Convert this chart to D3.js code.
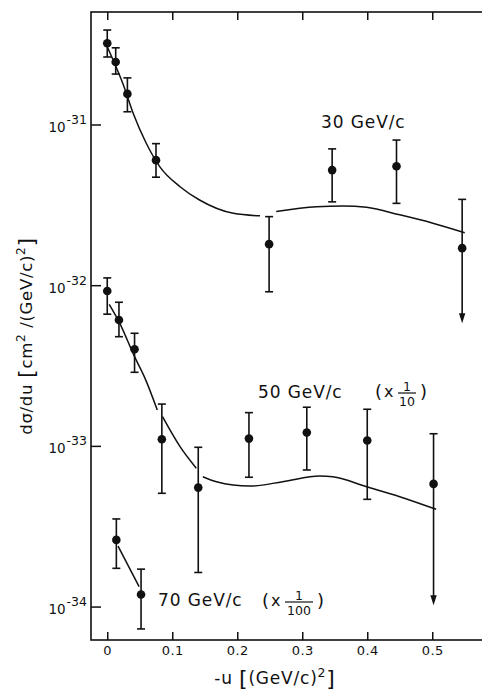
<!DOCTYPE html>
<html>
<head>
<meta charset="utf-8">
<script src="https://cdn.jsdelivr.net/npm/d3@7"></script>
<style>
  html, body { margin: 0; padding: 0; background: #fff; }
  svg { display: block; font-family: "DejaVu Sans", sans-serif; }
</style>
</head>
<body>
<svg id="chart" width="482" height="691"></svg>
<script>
// ---- Measured cross sections dσ/du (cm²/(GeV/c)²) versus -u ((GeV/c)²) ----

// 30 GeV/c
const u30   = [0.0, 0.013, 0.031, 0.075, 0.249, 0.346, 0.445, 0.546];
const val30 = [3.2e-31, 2.45e-31, 1.55e-31, 6.0e-32, 1.8e-32, 5.2e-32, 5.5e-32, 1.7e-32];
const hi30  = [3.87e-31, 3.0e-31, 1.95e-31, 7.6e-32, 2.67e-32, 7.05e-32, 8.0e-32, 3.42e-32];
const lo30  = [2.63e-31, 2.06e-31, 1.2e-31, 4.7e-32, 9.1e-33, 3.3e-32, 3.23e-32, 5.8e-33];
const lim30 = [false, false, false, false, false, false, false, true];

// 50 GeV/c (plotted × 1/10)
const u50   = [0.0, 0.018, 0.042, 0.084, 0.14, 0.218, 0.307, 0.40, 0.502];
const val50 = [9.2e-32, 6.07e-32, 3.99e-32, 1.1e-32, 5.5e-33, 1.11e-32, 1.21e-32, 1.08e-32, 5.8e-33];
const hi50  = [1.11e-31, 7.83e-32, 5.02e-32, 1.82e-32, 9.8e-33, 1.61e-32, 1.74e-32, 1.69e-32, 1.19e-32];
const lo50  = [6.6e-32, 4.78e-32, 2.87e-32, 5.07e-33, 1.63e-33, 6.38e-33, 7.08e-33, 4.65e-33, 1.02e-33];
const lim50 = [false, false, false, false, false, false, false, false, true];

// 70 GeV/c (plotted × 1/100)
const u70   = [0.014, 0.052];
const val70 = [2.6e-32, 1.19e-32];
const hi70  = [3.51e-32, 1.71e-32];
const lo70  = [1.73e-32, 7.26e-33];
const lim70 = [false, false];

// Model curves, as [-u, dσ/du] knots; each inner array is one drawn piece
const curve30 = [
  [[0.0, 3.05e-31], [0.009, 2.52e-31], [0.024, 1.80e-31], [0.040, 1.17e-31], [0.060, 7.64e-32],
   [0.081, 5.45e-32], [0.112, 4.10e-32], [0.142, 3.39e-32], [0.194, 2.80e-32], [0.235, 2.70e-32]],
  [[0.260, 2.87e-32], [0.322, 3.08e-32], [0.363, 3.11e-32], [0.399, 3.05e-32], [0.45, 2.74e-32],
   [0.501, 2.43e-32], [0.550, 2.12e-32]]
];
const curve50 = [
  [[0.003, 7.6e-32], [0.018, 5.93e-32], [0.042, 3.59e-32], [0.058, 2.64e-32], [0.077, 1.67e-32]],
  [[0.085, 1.52e-32], [0.112, 9.89e-33], [0.137, 7.26e-33]],
  [[0.147, 6.43e-33], [0.168, 5.98e-33], [0.219, 5.62e-33], [0.270, 5.98e-33], [0.327, 6.50e-33],
   [0.347, 6.43e-33], [0.399, 5.57e-33], [0.45, 4.83e-33], [0.506, 4.03e-33]]
];
const curve70 = [
  [[0.0166, 2.38e-32], [0.049, 1.33e-32]]
];

// Axis ticks
const xTickValues = [0, 0.1, 0.2, 0.3, 0.4, 0.5];
const xTickLabels = ["0", "0.1", "0.2", "0.3", "0.4", "0.5"];
const yTickValues = [1e-31, 1e-32, 1e-33, 1e-34];
const yTickExponents = ["-31", "-32", "-33", "-34"];

const seriesList = [
  { label: "30 GeV/c", factor: 1,    u: u30, v: val30, hi: hi30, lo: lo30, lim: lim30, curve: curve30 },
  { label: "50 GeV/c", factor: 0.1,  u: u50, v: val50, hi: hi50, lo: lo50, lim: lim50, curve: curve50 },
  { label: "70 GeV/c", factor: 0.01, u: u70, v: val70, hi: hi70, lo: lo70, lim: lim70, curve: curve70 }
];

// ---- Layout ----
const svg = d3.select("#chart");
const plot = { left: 91, right: 497.25, top: 12, bottom: 640 };

const x = d3.scaleLinear().domain([-0.025, 0.6]).range([plot.left, plot.right]);
const y = d3.scaleLog().domain([Math.pow(10, -34.208), Math.pow(10, -30.3)]).range([plot.bottom, plot.top]);

const ink = "#111";

// Frame
svg.append("rect")
  .attr("x", plot.left).attr("y", plot.top)
  .attr("width", plot.right - plot.left).attr("height", plot.bottom - plot.top)
  .attr("fill", "none").attr("stroke", ink).attr("stroke-width", 1.6);

// Inward ticks
const styleAxis = g => {
  g.select(".domain").remove();
  g.selectAll(".tick line").attr("stroke", ink).attr("stroke-width", 1.5);
};

svg.append("g").attr("transform", `translate(0,${plot.top})`)
  .call(d3.axisTop(x).tickValues(xTickValues).tickSizeInner(-8).tickSizeOuter(0).tickFormat(""))
  .call(styleAxis);

const xAxisBottom = svg.append("g").attr("transform", `translate(0,${plot.bottom})`)
  .call(d3.axisBottom(x).tickValues(xTickValues).tickSizeInner(-8).tickSizeOuter(0).tickPadding(6)
        .tickFormat((d, i) => xTickLabels[i]))
  .call(styleAxis);
xAxisBottom.selectAll(".tick text")
  .attr("font-family", "DejaVu Sans, sans-serif").attr("font-size", 13).attr("fill", ink)
  .attr("letter-spacing", 0.5);

const yAxisLeft = svg.append("g").attr("transform", `translate(${plot.left},0)`)
  .call(d3.axisLeft(y).tickValues(yTickValues).tickSizeInner(-10).tickSizeOuter(0).tickFormat(""))
  .call(styleAxis);

// Power-of-ten labels
yAxisLeft.selectAll(".tick").each(function (d, i) {
  const t = d3.select(this).append("text")
    .attr("x", -4).attr("y", 7)
    .attr("text-anchor", "end").attr("fill", ink)
    .attr("font-family", "DejaVu Sans, sans-serif");
  t.append("tspan").attr("font-size", 13.5).text("10");
  t.append("tspan").attr("font-size", 12.5).attr("dy", -8).attr("dx", 1).text(yTickExponents[i]);
});

// Curves
const line = d3.line()
  .x(d => x(d[0]))
  .y(d => y(d[1]))
  .curve(d3.curveMonotoneX);

seriesList.forEach(s => {
  s.curve.forEach(piece => {
    svg.append("path")
      .attr("d", line(piece.map(k => [k[0], k[1] * s.factor])))
      .attr("fill", "none").attr("stroke", ink).attr("stroke-width", 1.5);
  });
});

// Data points with error bars
const capHalf = 4;
const arrowH = 10, arrowHalf = 3.2;
seriesList.forEach(s => {
  const pts = s.u.map((u, i) => ({
    u, v: s.v[i] * s.factor, hi: s.hi[i] * s.factor, lo: s.lo[i] * s.factor, lim: s.lim[i]
  }));
  const g = svg.append("g");
  pts.forEach(p => {
    const px = x(p.u);
    const yTop = y(p.hi), yBot = y(p.lo);
    g.append("line")
      .attr("x1", px).attr("x2", px)
      .attr("y1", yTop).attr("y2", p.lim ? yBot - arrowH + 1 : yBot)
      .attr("stroke", ink).attr("stroke-width", 1.6);
    g.append("line")
      .attr("x1", px - capHalf).attr("x2", px + capHalf)
      .attr("y1", yTop).attr("y2", yTop)
      .attr("stroke", ink).attr("stroke-width", 1.6);
    if (p.lim) {
      g.append("path")
        .attr("d", `M${px - arrowHalf},${yBot - arrowH} L${px + arrowHalf},${yBot - arrowH} L${px},${yBot} Z`)
        .attr("fill", ink);
    } else {
      g.append("line")
        .attr("x1", px - capHalf).attr("x2", px + capHalf)
        .attr("y1", yBot).attr("y2", yBot)
        .attr("stroke", ink).attr("stroke-width", 1.6);
    }
    g.append("circle")
      .attr("cx", px).attr("cy", y(p.v)).attr("r", 4.3)
      .attr("fill", ink);
  });
});

// Series labels
const labelFont = "DejaVu Sans, sans-serif";
function seriesLabel(text, lx, ly) {
  svg.append("text")
    .attr("x", lx).attr("y", ly)
    .attr("font-family", labelFont).attr("font-size", 17).attr("letter-spacing", 0.9)
    .attr("fill", ink).text(text);
}
function scaleNote(lx, ly, denom, barW) {
  const g = svg.append("g").attr("transform", `translate(${lx},${ly})`)
    .attr("font-family", labelFont).attr("fill", ink);
  g.append("text").attr("x", 0).attr("y", 0).attr("font-size", 18).text("(");
  g.append("text").attr("x", 9).attr("y", -1).attr("font-size", 16).text("x");
  const cx = 23 + barW / 2;
  g.append("line").attr("x1", 23).attr("x2", 23 + barW).attr("y1", -5).attr("y2", -5)
    .attr("stroke", ink).attr("stroke-width", 1.2);
  g.append("text").attr("x", cx).attr("y", -7.5).attr("text-anchor", "middle").attr("font-size", 12.5).text("1");
  g.append("text").attr("x", cx).attr("y", 8).attr("text-anchor", "middle").attr("font-size", 12.5)
    .text(denom);
  g.append("text").attr("x", 23 + barW + 4).attr("y", 0).attr("font-size", 18).text(")");
}

seriesLabel(seriesList[0].label, 321, 128);
seriesLabel(seriesList[1].label, 258, 398);
scaleNote(375, 398, "10", 18);
seriesLabel(seriesList[2].label, 158, 606);
scaleNote(262, 607, "100", 28);

// Axis titles
const yTitle = svg.append("text")
  .attr("transform", "translate(32,336) rotate(-90)")
  .attr("text-anchor", "middle").attr("font-family", labelFont).attr("fill", ink)
  .attr("font-size", 16.5).attr("letter-spacing", 0.7);
yTitle.append("tspan").text("dσ/du ");
yTitle.append("tspan").attr("font-size", 22).attr("dy", 2).text("[");
yTitle.append("tspan").attr("dy", -2).text("cm");
yTitle.append("tspan").attr("font-size", 12).attr("dy", -7).text("2");
yTitle.append("tspan").attr("dy", 7).text(" /(GeV/c)");
yTitle.append("tspan").attr("font-size", 12).attr("dy", -7).text("2");
yTitle.append("tspan").attr("font-size", 22).attr("dy", 9).text("]");

const xTitle = svg.append("text")
  .attr("x", 275).attr("y", 684)
  .attr("text-anchor", "middle").attr("font-family", labelFont).attr("fill", ink)
  .attr("font-size", 17).attr("letter-spacing", 0.8);
xTitle.append("tspan").text("-u ");
xTitle.append("tspan").attr("font-size", 22).attr("dy", 2).text("[");
xTitle.append("tspan").attr("dy", -2).text("(GeV/c)");
xTitle.append("tspan").attr("font-size", 12.5).attr("dy", -7).text("2");
xTitle.append("tspan").attr("font-size", 22).attr("dy", 9).text("]");
</script>
</body>
</html>
